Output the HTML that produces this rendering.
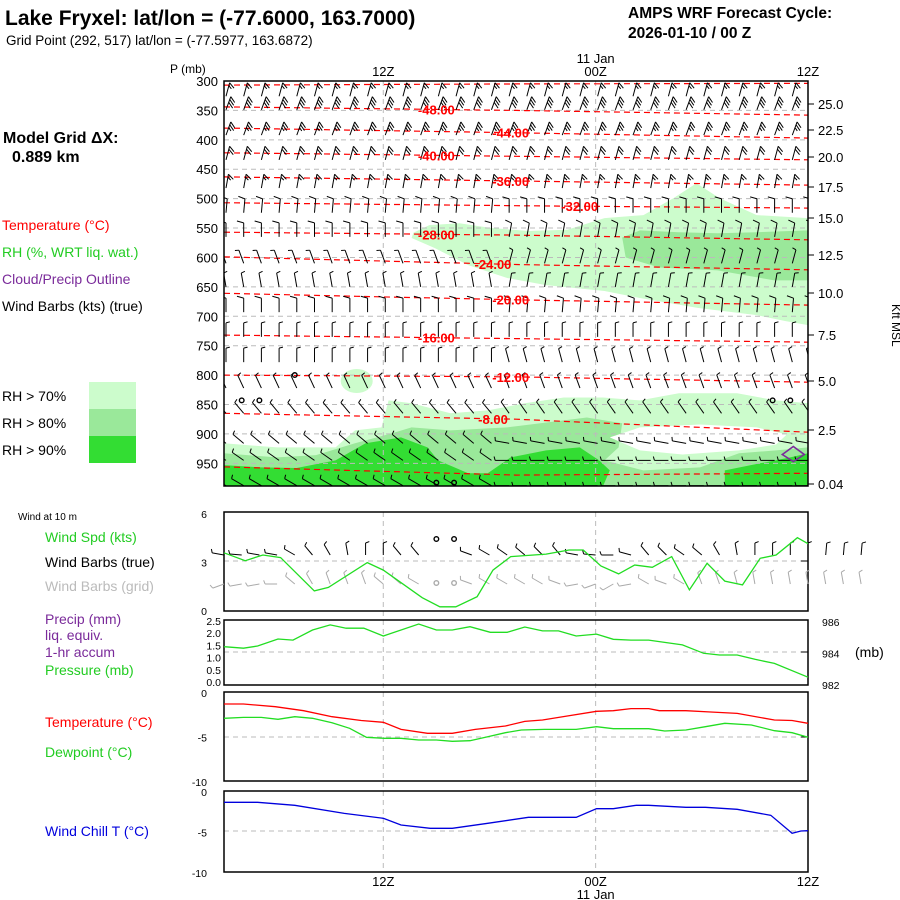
<!DOCTYPE html>
<html><head><meta charset="utf-8">
<style>
html,body{margin:0;padding:0;background:#fff;}
svg{display:block;font-family:"Liberation Sans",sans-serif;}
</style></head>
<body>
<svg id="chart" width="900" height="900" viewBox="0 0 900 900" xmlns="http://www.w3.org/2000/svg">
<rect width="900" height="900" fill="#fff"/>
<text x="5" y="25" font-size="21" font-weight="bold">Lake Fryxel:  lat/lon = (-77.6000, 163.7000)</text>
<text x="6" y="45" font-size="13.5">Grid Point (292, 517) lat/lon = (-77.5977, 163.6872)</text>
<text x="628" y="18" font-size="15.5" font-weight="bold">AMPS WRF Forecast Cycle:</text>
<text x="628" y="38" font-size="15.5" font-weight="bold">2026-01-10 / 00  Z</text>
<text x="3" y="143" font-size="16" font-weight="bold">Model Grid ΔX:</text>
<text x="12" y="162" font-size="16" font-weight="bold">0.889 km</text>
<text x="2" y="230" font-size="14" fill="#ff0000">Temperature (°C)</text>
<text x="2" y="257" font-size="14" fill="#22cc22">RH (%, WRT liq. wat.)</text>
<text x="2" y="284" font-size="14" fill="#7a2a9a">Cloud/Precip Outline</text>
<text x="2" y="311" font-size="14" fill="#000">Wind Barbs (kts) (true)</text>
<g>
<rect x="89" y="382" width="47" height="27" fill="#ccfccc"/>
<rect x="89" y="409" width="47" height="27" fill="#9ae89a"/>
<rect x="89" y="436" width="47" height="27" fill="#33dd33"/>
<text x="2" y="401" font-size="14">RH &gt; 70%</text>
<text x="2" y="428" font-size="14">RH &gt; 80%</text>
<text x="2" y="455" font-size="14">RH &gt; 90%</text>
</g>
<text x="170" y="73" font-size="12">P (mb)</text>
<text x="876" y="300" font-size="12" transform="rotate(90 882 310)">Kft MSL</text>
<text x="18" y="520" font-size="10">Wind at 10 m</text>
<text x="45" y="542" font-size="14" fill="#22cc22">Wind Spd (kts)</text>
<text x="45" y="567" font-size="14" fill="#000">Wind Barbs (true)</text>
<text x="45" y="591" font-size="14" fill="#bbbbbb">Wind Barbs (grid)</text>
<text x="45" y="624" font-size="14" fill="#7a2a9a">Precip (mm)</text>
<text x="45" y="640" font-size="14" fill="#7a2a9a">liq. equiv.</text>
<text x="45" y="657" font-size="14" fill="#7a2a9a">1-hr accum</text>
<text x="45" y="675" font-size="14" fill="#22cc22">Pressure (mb)</text>
<text x="45" y="727" font-size="14" fill="#ff0000">Temperature (°C)</text>
<text x="45" y="757" font-size="14" fill="#22cc22">Dewpoint (°C)</text>
<text x="45" y="836" font-size="14" fill="#0000dd">Wind Chill T (°C)</text>
<text x="855" y="657" font-size="14">(mb)</text>
<g id="dyn"></g>
</svg>
<script>
// ---- data ----
const timeTickHours = [9, 21, 33];
const timeTickLabels = ["12Z", "00Z", "12Z"];
const pTicks = [300,350,400,450,500,550,600,650,700,750,800,850,900,950];
const kftLabels = ["25.0","22.5","20.0","17.5","15.0","12.5","10.0","7.5","5.0","2.5","0.04"];
const kftY = [104,130,157,187,218,255,293,335,381,430,484];
// temperature contours
const ctTemp = [-52,-48,-44,-40,-36,-32,-28,-24,-20,-16,-12,-8,-4];
const ctPLeft = [307,344,380,422,463,507,557,599,661,732,800,865,956];
const ctPMid = [305,350,388,428,470,512,562,612,672,738,803,875,970];
const ctPRight = [304,358,397,434,477,516,570,621,681,744,812,897,967];
const ctLabelHour = [null,12,16.2,12,16.2,20.1,12,15.2,16.2,12,16.2,15.2,null];
// wind barb rows (upper air)
const rowP = [326,349,392,434,482,524,565,610,650,693,735,778,822,865,916,945,988];
const rowAngL = [15,20,20,15,10,5,0,-20,-10,0,0,0,-25,-40,-50,-55,-60];
const rowAngR = [15,20,20,15,10,0,10,15,10,5,0,-15,-20,-35,-80,-90,-90];
const rowSpd = [15,30,25,20,15,10,10,5,5,10,5,5,5,5,5,5,5];
const rowSide = [1,1,1,1,1,-1,-1,-1,1,-1,1,1,1,1,1,1,1];
const calmH = [4,1,2,31,32,12,13];
const calmP = [805,848,848,848,848,988,988];
// 10 m wind
const windHours = [0,1.2,2.2,3.2,5.1,5.9,8.1,9.0,11.2,12.2,13.1,14.3,15.2,16.2,18.2,19.5,20.3,21.3,22.3,23.2,24.2,25.3,26.3,27.3,28.3,29.3,30.3,31.2,32.4,33];
const windSpd = [3.54,3.05,3.4,3.24,1.18,1.4,2.93,2.47,0.76,0.2,0.2,0.82,2.47,3.3,3.46,3.71,3.71,2.72,2.23,2.78,2.64,3.3,1.24,2.89,1.79,1.55,3.2,3.4,4.47,4.1];
const sfcAng = [-80,-85,-80,-80,-60,-40,-30,-10,0,0,-40,-40,null,null,-70,-60,-55,-50,-45,-40,-80,-85,-90,-75,-40,-45,-55,-50,-30,-10,0,0,0,0,5,5,5];
const gridAng = [-110,-100,-100,-90,-50,-30,-20,-20,-20,-50,-50,-60,null,null,-70,-60,-60,-60,-60,-70,-100,-110,-120,-100,-60,-70,-60,-20,-20,-15,-10,-10,-10,-10,-10,-10,-10];
// pressure
const presHours = [0,1.1,1.9,3.05,3.9,5.0,6.0,6.9,7.9,9.0,11.0,12.0,12.9,13.9,15.05,16.0,17.0,18.0,18.9,19.9,21.05,22.0,23.0,24.0,25.9,27.1,28.0,29.0,30.0,31.1,33];
const presVal = [984.37,984.27,984.41,984.86,984.79,985.43,985.75,985.54,985.54,985.05,985.81,985.43,985.43,985.64,985.28,985.28,985.62,985.37,985.37,985.05,985.17,984.84,984.79,984.79,984.48,983.95,983.84,983.84,983.57,983.31,982.43];
// temperature & dewpoint
const tHours = [0,1.1,2.9,4.5,6.1,7.75,9.0,10.0,11.5,12.9,14.2,15.9,17.0,18.0,19.4,21.05,22.0,23.0,24.0,24.6,26.1,27.5,29.0,31.1,32.1,33];
const tVal = [-1.35,-1.35,-1.65,-2.1,-2.77,-3.2,-3.4,-4.2,-4.64,-4.64,-4.2,-3.82,-3.3,-3.15,-2.7,-2.17,-2.1,-1.87,-1.87,-2.1,-2.1,-2.25,-2.4,-3.15,-3.2,-3.52];
const tdHours = [0,1.1,2.1,3.05,4.0,5.0,6.1,7.1,8.05,9.05,10.0,11.0,12.0,12.9,13.9,14.9,15.9,16.8,18.1,19.9,21.05,22.0,24.0,24.9,26.1,27.2,28.3,29.8,31.1,32.1,33];
const tdVal = [-2.96,-2.85,-2.85,-3.07,-2.77,-2.96,-3.45,-4.08,-5.09,-5.2,-5.2,-5.39,-5.39,-5.54,-5.47,-5.02,-4.57,-4.27,-4.2,-4.2,-3.9,-4.12,-4.12,-4.38,-4.27,-3.9,-3.52,-3.71,-4.35,-4.57,-5.09];
// wind chill
const wcHours = [0,1.9,4.0,6.8,9.0,10.0,11.65,12.9,14.9,17.2,19.9,21.05,22.0,23.3,24.0,26.1,27.2,29.0,30.9,32.1,32.6,33];
const wcVal = [-1.4,-1.4,-1.77,-2.76,-3.37,-4.2,-4.6,-4.6,-3.99,-3.25,-3.25,-2.18,-2.18,-1.77,-1.77,-2.01,-2.01,-2.26,-3.0,-5.22,-4.94,-4.9];
// RH regions as [hour, pressure] outlines
const rh70Upper = [[10.7,558],[11.6,545],[13.3,542],[15.1,550],[17.2,555],[19.4,553],[21.5,533],[23.7,528],[25.4,499],[26.7,474],[28.0,499],[30.1,528],[33,533],[33,715],[31.7,708],[30.1,698],[26.8,686],[23.5,669],[21.5,657],[18.2,647],[16.0,635],[13.8,613],[11.9,584],[10.6,567]];
const rh80Upper = [[22.5,566],[23.5,554],[25.7,557],[27.9,559],[30.1,557],[33,554],[33,639],[31.1,639],[27.9,622],[24.6,617],[22.7,600]];
const rh70Lower = [[0,916],[3,923],[6.3,923],[7.4,894],[8.9,889],[9.3,843],[10.6,848],[12.8,865],[14.9,860],[17.0,848],[19.2,838],[21.4,838],[23.5,843],[25.7,831],[29.0,831],[31.2,843],[33,848],[33,990],[0,990]];
const rh80Lower = [[0,933],[3,940],[5.2,936],[7.4,916],[9.5,899],[10.6,889],[12.8,894],[16.0,889],[19.2,877],[20.5,872],[22.5,882],[22.3,923],[21.5,945],[23.7,962],[26.9,957],[29.1,933],[31.2,928],[33,923],[33,990],[0,990]];
const rhGap = [[21.8,906],[23.5,889],[26.9,884],[30.1,889],[31.8,901],[31.2,918],[29.1,928],[25.9,935],[23.5,928]];
const rh90a = [[0,953],[2.1,957],[4.1,958],[6.3,945],[8.0,916],[10.0,906],[11.5,923],[12.1,945],[13.8,967],[14.9,967],[16.2,940],[18.2,928],[20.1,923],[21.2,945],[21.8,962],[21.4,990],[0,990]];
const rh90b = [[28.3,962],[30.3,950],[32.0,940],[33,933],[33,990],[28.3,990]];
const cloudH = [32.0], cloudP = [935];

// ---- axes ----
const X0 = 224, X1 = 808, NH = 33;
function X(h){ return X0 + h*(X1-X0)/NH; }
function Yp(p){ return 81 + (p-300)*0.5882; }
function Yw(v){ return 610 - v*16.17; }
function Ypr(p){ return 684 - (p-982)*15.75; }
function Yt(t){ return 692 - t*8.9; }
function Ywc(t){ return 791 - t*8.1; }

const NS = "http://www.w3.org/2000/svg";
const root = document.getElementById('dyn');
function el(tag, attrs, parent){
  const e = document.createElementNS(NS, tag);
  for (const k in attrs) e.setAttribute(k, attrs[k]);
  (parent||root).appendChild(e);
  return e;
}
function grp(name){
  const g = el('g', {});
  
  
  return g;
}
function polyPts(arr){ return arr.map(d => X(d[0]).toFixed(1)+','+Yp(d[1]).toFixed(1)).join(' '); }

const defs = el('defs', {});
const cp = el('clipPath', {id:'mainclip'}, defs);
el('rect', {x:X0, y:81, width:X1-X0, height:405}, cp);

// RH shading
const rhG = grp('rh-shading');
rhG.setAttribute('clip-path', 'url(#mainclip)');
const shadeList = [[rh70Upper,'#ccfccc','rh70-upper'],[rh80Upper,'#9ae89a','rh80-upper'],[rh70Lower,'#ccfccc','rh70-lower'],[rh80Lower,'#9ae89a','rh80-lower'],[rhGap,'#ffffff','rh-gap'],[rh90a,'#33dd33','rh90-left'],[rh90b,'#33dd33','rh90-right']];
shadeList.forEach(s => {
  const p = el('polygon', {points: polyPts(s[0]), fill: s[1]}, rhG);
  
  
});
const bump = el('ellipse', {cx: X(7.5), cy: Yp(810), rx: 16, ry: 12, fill: '#ccfccc'}, rhG);



// grid lines
const gridG = grp('main-grid');
pTicks.forEach(p => {
  el('line', {x1:X0, x2:X1, y1:Yp(p), y2:Yp(p), stroke:'#bbbbbb', 'stroke-dasharray':'5,4', 'stroke-width':1}, gridG);
});
timeTickHours.slice(0,2).forEach(h => {
  el('line', {x1:X(h), x2:X(h), y1:81, y2:486, stroke:'#bbbbbb', 'stroke-dasharray':'5,4'}, gridG);
  el('line', {x1:X(h), x2:X(h), y1:512, y2:872, stroke:'#bbbbbb', 'stroke-dasharray':'5,4'}, gridG);
});

// temperature contours
const ctG = grp('temperature-contours');
ctG.setAttribute('clip-path', 'url(#mainclip)');
function ctY(i, h){
  const hm = 16.5;
  if (h <= hm) return Yp(ctPLeft[i] + (ctPMid[i]-ctPLeft[i])*h/hm);
  return Yp(ctPMid[i] + (ctPRight[i]-ctPMid[i])*(h-hm)/(NH-hm));
}
ctTemp.forEach((t, i) => {
  const pts = [];
  for (let h = 0; h <= NH; h += 0.5) pts.push(X(h).toFixed(1)+','+ctY(i,h).toFixed(1));
  const pl = el('polyline', {points: pts.join(' '), fill:'none', stroke:'#ff0000', 'stroke-width':1.2, 'stroke-dasharray':'6,4'}, ctG);
  
  
});

// barbs
function barb(parent, x, y, ang, spd, side, color, len, fang){
  const a = ang*Math.PI/180;
  const dx = Math.sin(a), dy = -Math.cos(a);
  const tx = x + dx*len, ty = y + dy*len;
  el('line', {x1:x, y1:y, x2:tx, y2:ty, stroke:color, 'stroke-width':1}, parent);
  let n = Math.round(spd/5);
  let k = 0;
  const fa = a + side*(fang||1.2);
  const fx = Math.sin(fa), fy = -Math.cos(fa);
  while (n > 0) {
    const bx = tx - dx*k*3, by = ty - dy*k*3;
    const fl = n >= 2 ? 7 : 4;
    el('line', {x1:bx, y1:by, x2:bx+fx*fl, y2:by+fy*fl, stroke:color, 'stroke-width':1}, parent);
    n -= 2; k++;
  }
}
const barbG = grp('upper-wind-barbs');
barbG.setAttribute('clip-path', 'url(#mainclip)');
rowP.forEach((p, r) => {
  for (let h = 0; h <= NH; h++) {
    const ang = h < 16 ? rowAngL[r] : rowAngR[r];
    barb(barbG, X(h)+2, Yp(p), ang, rowSpd[r], rowSide[r], '#000', 14, r < 5 ? 2.2 : 1.3);
  }
});
calmH.forEach((h, i) => {
  const c = el('circle', {cx:X(h), cy:Yp(calmP[i])-3, r:2.3, fill:'none', stroke:'#000', 'stroke-width':1.4}, barbG);
  
  
});
cloudH.forEach((h, i) => {
  const cx = X(h)+3, cy = Yp(cloudP[i]);
  const d = el('polygon', {points: `${cx-11},${cy} ${cx},${cy-8} ${cx+11},${cy} ${cx},${cy+7}`, fill:'none', stroke:'#7a2a9a', 'stroke-width':1.6}, barbG);
  
  
});

// contour labels
const ctLG = grp('contour-labels');
ctTemp.forEach((t, i) => {
  if (ctLabelHour[i] === null) return;
  const h = ctLabelHour[i];
  const tx = el('text', {x:X(h), y:ctY(i,h)+5, 'text-anchor':'middle', 'font-size':13, 'font-weight':'bold', fill:'#ff0000'}, ctLG);
  tx.textContent = t.toFixed(2);
  
  
});

// main frame & axes
const axG = grp('main-axes');
el('rect', {x:X0, y:81, width:X1-X0, height:405, fill:'none', stroke:'#000', 'stroke-width':1.5}, axG);
pTicks.forEach(p => {
  const t = el('text', {x:218, y:Yp(p)+5, 'text-anchor':'end', 'font-size':13}, axG);
  t.textContent = p;
  
  
});
kftLabels.forEach((l, i) => {
  el('line', {x1:X1, x2:X1+6, y1:kftY[i], y2:kftY[i], stroke:'#000'}, axG);
  const t = el('text', {x:818, y:kftY[i]+5, 'font-size':13}, axG);
  t.textContent = l;
  
  
});
timeTickHours.forEach((h, i) => {
  const t = el('text', {x:X(h), y:76, 'text-anchor':'middle', 'font-size':13}, axG);
  t.textContent = timeTickLabels[i];
  
  
  const b = el('text', {x:X(h), y:886, 'text-anchor':'middle', 'font-size':13}, axG);
  b.textContent = timeTickLabels[i];
  
  
});
const dTop = el('text', {x:X(21), y:63, 'text-anchor':'middle', 'font-size':13}, axG);
dTop.textContent = '11 Jan';


const dBot = el('text', {x:X(21), y:899, 'text-anchor':'middle', 'font-size':13}, axG);
dBot.textContent = '11 Jan';



// lower panels
const panels = [[512,611,'wind-panel',561],[620,685,'precip-pressure-panel',652],[692,781,'temperature-panel',737],[791,872,'wind-chill-panel',831]];
panels.forEach(pn => {
  const g = grp(pn[2]);
  el('line', {x1:X0, x2:X1, y1:pn[3], y2:pn[3], stroke:'#bbbbbb', 'stroke-dasharray':'5,4'}, g);
  el('line', {x1:X1-7, x2:X1, y1:pn[3], y2:pn[3], stroke:'#000'}, g);
  el('rect', {x:X0, y:pn[0], width:X1-X0, height:pn[1]-pn[0], fill:'none', stroke:'#000', 'stroke-width':1.5}, g);
});
function smallLabel(x, y, txt, name, anchor){
  const t = el('text', {x:x, y:y, 'font-size':10.5, 'text-anchor':anchor||'end'});
  t.textContent = txt;
  
  
}
const wTicks = [6,3,0];
wTicks.forEach(v => smallLabel(207, Yw(v)+5, String(v), 'wind-tick-label'));
const prTicks = ["2.5","2.0","1.5","1.0","0.5","0.0"];
prTicks.forEach((v, i) => smallLabel(221, 625+i*12.2, v, 'precip-tick-label'));
const presTicks = [986,984,982];
presTicks.forEach(v => smallLabel(822, Ypr(v)+5, String(v), 'pressure-tick-label', 'start'));
const tTicks = [0,-5,-10];
tTicks.forEach(v => smallLabel(207, Yt(v)+5, String(v), 'temp-tick-label'));
tTicks.forEach(v => smallLabel(207, Ywc(v)+5, String(v), 'windchill-tick-label'));

function series(hours, vals, yf, color, name){
  const pts = hours.map((h, i) => X(h).toFixed(1)+','+yf(vals[i]).toFixed(1)).join(' ');
  const p = el('polyline', {points:pts, fill:'none', stroke:color, 'stroke-width':1.3});
  
  
}

const sfcG = grp('surface-wind-barbs');
sfcAng.forEach((a, h) => {
  if (a === null) {
    const c = el('circle', {cx:X(h), cy:539, r:2.3, fill:'none', stroke:'#000', 'stroke-width':1.4}, sfcG);
    
    
  } else barb(sfcG, X(h), 555, a, 5, 1, '#000', 12);
});
const grG = grp('grid-wind-barbs');
gridAng.forEach((a, h) => {
  if (a === null) {
    const c = el('circle', {cx:X(h), cy:583, r:2.3, fill:'none', stroke:'#aaaaaa', 'stroke-width':1.4}, grG);
    
    
  } else barb(grG, X(h), 584, a, 5, 1, '#aaaaaa', 12);
});
series(windHours, windSpd, Yw, '#22dd22', 'wind-speed-line');
series(presHours, presVal, Ypr, '#22dd22', 'pressure-line');
series(tHours, tVal, Yt, '#ff0000', 'temperature-line');
series(tdHours, tdVal, Yt, '#22dd22', 'dewpoint-line');
series(wcHours, wcVal, Ywc, '#0000dd', 'wind-chill-line');
</script>
</body></html>
